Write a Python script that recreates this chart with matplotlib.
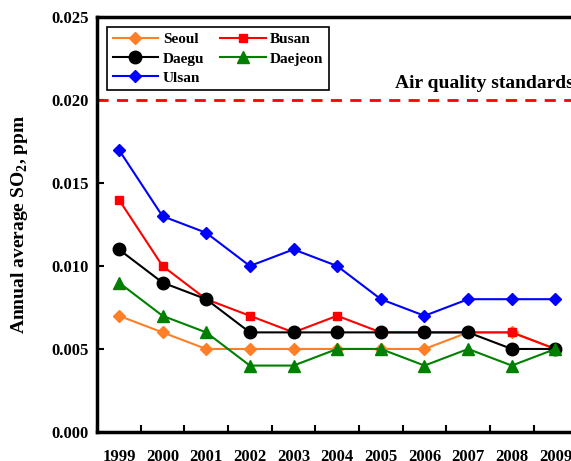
import matplotlib.pyplot as plt
import numpy as np

years = ['1999', '2000', '2001', '2002', '2003', '2004', '2005', '2006', '2007', '2008', '2009']
seoul = [0.007, 0.006, 0.005, 0.005, 0.005, 0.005, 0.005, 0.005, 0.006, 0.006, 0.005]
busan = [0.014, 0.010, 0.008, 0.007, 0.006, 0.007, 0.006, 0.006, 0.006, 0.006, 0.005]
daegu = [0.011, 0.009, 0.008, 0.006, 0.006, 0.006, 0.006, 0.006, 0.006, 0.005, 0.005]
daejeon = [0.009, 0.007, 0.006, 0.004, 0.004, 0.005, 0.005, 0.004, 0.005, 0.004, 0.005]
ulsan = [0.017, 0.013, 0.012, 0.010, 0.011, 0.010, 0.008, 0.007, 0.008, 0.008, 0.008]
standard = 0.020

plt.rcParams['font.family'] = ['Liberation Serif', 'DejaVu Serif']
plt.rcParams['font.weight'] = 'bold'
plt.rcParams['mathtext.fontset'] = 'custom'
plt.rcParams['mathtext.rm'] = 'Liberation Serif:bold'
plt.rcParams['mathtext.bf'] = 'Liberation Serif:bold'

fig = plt.figure(figsize=(5.71, 4.61), dpi=100)
ax = fig.add_axes([0.170, 0.063, 0.841, 0.900])

x = np.arange(len(years))
l1, = ax.plot(x, seoul, color='#FF7F27', marker='D', markersize=6.5, lw=1.5, label='Seoul')
l2, = ax.plot(x, busan, color='#FF0000', marker='s', markersize=6, lw=1.5, label='Busan')
l3, = ax.plot(x, daegu, color='black', marker='o', markersize=9, lw=1.5, label='Daegu')
l4, = ax.plot(x, daejeon, color='#008000', marker='^', markersize=9, lw=1.5, label='Daejeon')
l5, = ax.plot(x, ulsan, color='#0000FF', marker='D', markersize=6.5, lw=1.5, label='Ulsan')

ax.axhline(standard, color='red', ls=(0, (4, 3)), lw=2)
ax.text(10.42, standard + 0.0005, 'Air quality standards', ha='right', va='bottom',
        fontsize=14, fontweight='bold')

ax.set_xlim(-0.5, 10.5)
ax.set_ylim(0, 0.025)
ax.set_yticks(np.arange(0, 0.0251, 0.005))
ax.set_yticklabels(['%.3f' % v for v in np.arange(0, 0.0251, 0.005)], fontsize=12)

ax.set_xticks(np.arange(-0.5, 10.6, 1.0))
ax.set_xticklabels([])
ax.set_xticks(x, minor=True)
ax.set_xticklabels(years, minor=True, fontsize=12)
ax.tick_params(axis='x', which='major', direction='in', length=5, width=1.5)
ax.tick_params(axis='x', which='minor', length=0, pad=12)
ax.tick_params(axis='y', direction='in', length=5, width=1.5, pad=6)

for s in ax.spines.values():
    s.set_linewidth(2.5)

ax.set_ylabel('Annual average SO$_2$, ppm', fontsize=14, fontweight='bold', labelpad=15)

handles = [l1, l3, l5, l2, l4]
leg = ax.legend(handles=handles, labels=[h.get_label() for h in handles], ncol=2,
                loc='upper left', bbox_to_anchor=(0.021, 0.975), borderaxespad=0,
                fancybox=False, edgecolor='black', framealpha=1, fontsize=11,
                handlelength=3.0, columnspacing=1.0, handletextpad=0.3, labelspacing=0.35,
                borderpad=0.35)
leg.get_frame().set_linewidth(1.2)

fig.savefig('out.png', dpi=100)
